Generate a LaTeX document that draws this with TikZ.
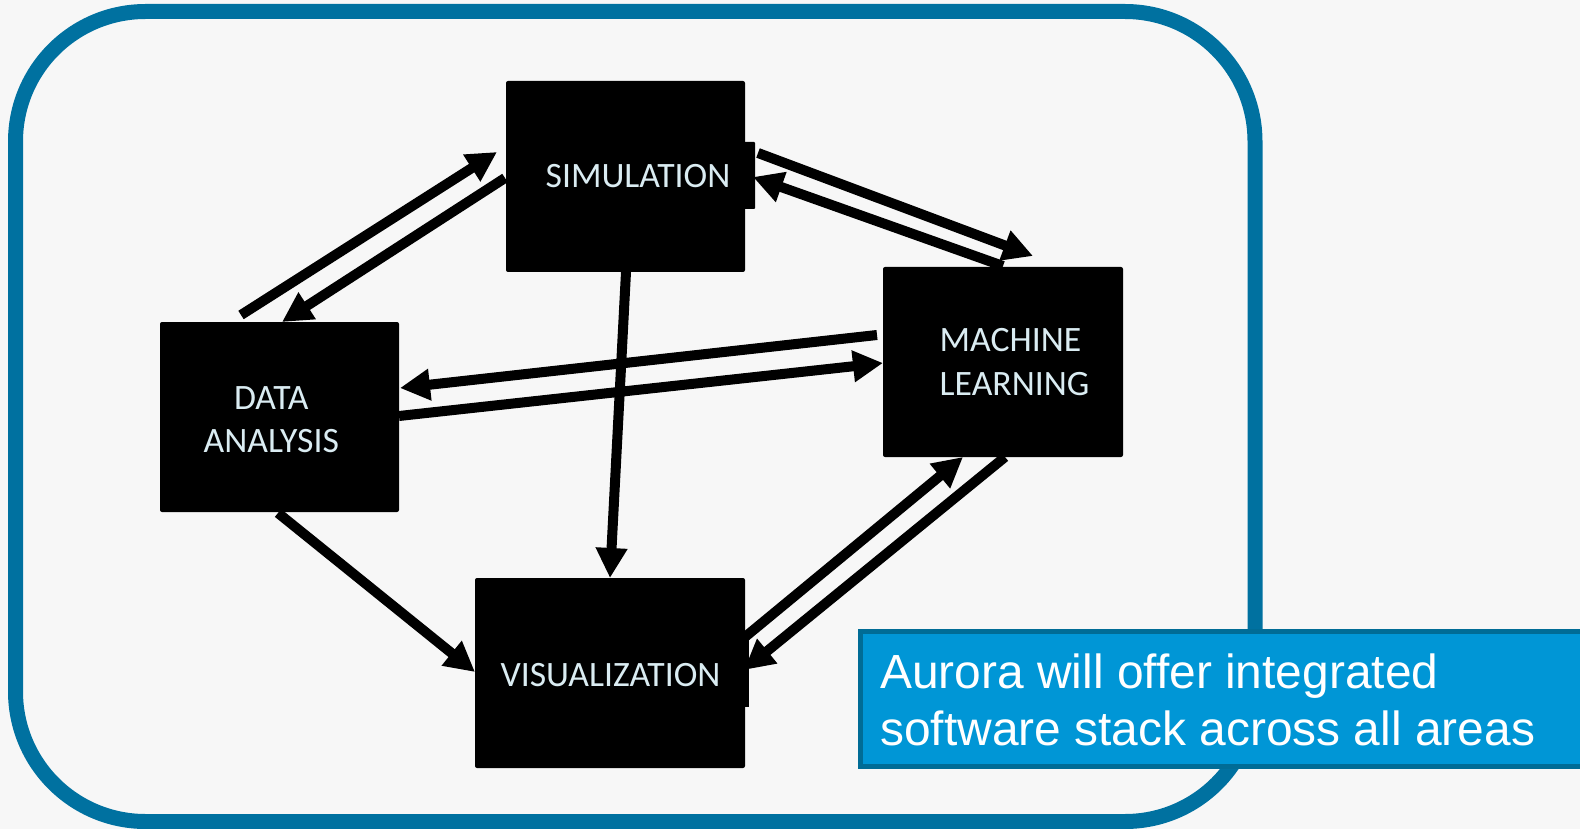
\documentclass[tikz,border=0pt]{standalone}
\usepackage{fontspec}
\newfontfamily\boxfont{Carlito}
\newfontfamily\callfont{Liberation Sans}
\usetikzlibrary{arrows.meta}
\definecolor{bg}{RGB}{247,247,247}
\definecolor{frameblue}{RGB}{0,113,160}
\definecolor{callfill}{RGB}{0,150,214}
\definecolor{callborder}{RGB}{0,108,150}
\definecolor{boxtext}{RGB}{218,236,242}
\begin{document}
\begin{tikzpicture}[x=1pt,y=-1pt,
  area/.style={fill=black, draw=none, rounded corners=2pt, inner sep=0pt, outer sep=0pt},
  lbl/.style={text=boxtext, font=\boxfont\fontsize{35.7}{43}\selectfont, inner sep=0pt},
  calltext/.style={text=white, font=\callfont\fontsize{47.9}{57}\selectfont, inner sep=0pt, anchor=base west},
  flow/.style={line width=10pt, -{Triangle[length=30pt,width=30pt]}}
]
\useasboundingbox (0,0) rectangle (1580,829);
\fill[bg] (0,0) rectangle (1580,829);
\draw[frameblue, line width=15pt, rounded corners=130pt] (15.5,11.5) rectangle (1255,821.5);

% boxes
\node[area, minimum width=239pt, minimum height=191pt] (sim) at (625.5,176.5) {};
\node[area, minimum width=239pt, minimum height=190pt] (da) at (279.5,417) {};
\node[area, minimum width=240pt, minimum height=190pt] (ml) at (1003,362) {};
\node[area, minimum width=270pt, minimum height=190pt] (vis) at (610,673) {};
\fill[rounded corners=1pt] ([shift={(-2,61)}]sim.north east) rectangle ([shift={(10,128)}]sim.north east);
\fill ([shift={(-2,59)}]vis.north east) rectangle ([shift={(4,129)}]vis.north east);

% labels
\node[lbl, anchor=base] (simT) at (638,187.3) {SIMULATION};
\node[lbl, anchor=base] (daT1) at (271.3,409) {DATA};
\node[lbl, anchor=base] (daT2) at (271.3,452.7) {ANALYSIS};
\node[lbl, anchor=base west] (mlT1) at (939.5,351.7) {MACHINE};
\node[lbl, anchor=base west] (mlT2) at (939.5,395) {LEARNING};
\node[lbl, anchor=base] (visT) at (610.5,686.7) {VISUALIZATION};

% connectors
\draw[flow] ([shift={(81,-7)}]da.north west) -- ([shift={(-9,71)}]sim.north west);
\draw[flow] ([shift={(-1,97)}]sim.north west) -- ([shift={(122,0)}]da.north west);
\draw[flow] ([shift={(13,72)}]sim.north east) -- ([shift={(150,-11)}]ml.north west);
\draw[flow] ([shift={(120,-1)}]ml.north west) -- ([shift={(8,96)}]sim.north east);
\draw[flow] ([shift={(-6,68)}]ml.north west) -- ([shift={(1,66)}]da.north east);
\draw[flow] ([shift={(0,94)}]da.north east) -- ([shift={(0,96)}]ml.north west);
\draw[flow] ([shift={(120,0)}]sim.south west) -- ([shift={(135,0)}]vis.north west);
\draw[flow] ([shift={(118,1)}]da.south west) -- ([shift={(0,94)}]vis.north west);
\draw[flow] ([shift={(0,59)}]vis.north east) -- ([shift={(80,0)}]ml.south west);
\draw[flow] ([shift={(122,0)}]ml.south west) -- ([shift={(-1,92)}]vis.north east);

% callout
\node[draw=callborder, fill=callfill, line width=5pt, inner sep=0pt, outer sep=0pt,
      minimum width=740pt, minimum height=135pt] (callout) at (1230,699) {};
\node[calltext] (note1) at (880,688.3) {Aurora will offer integrated};
\node[calltext] (note2) at (880,745) {software stack across all areas};
\end{tikzpicture}
\end{document}
